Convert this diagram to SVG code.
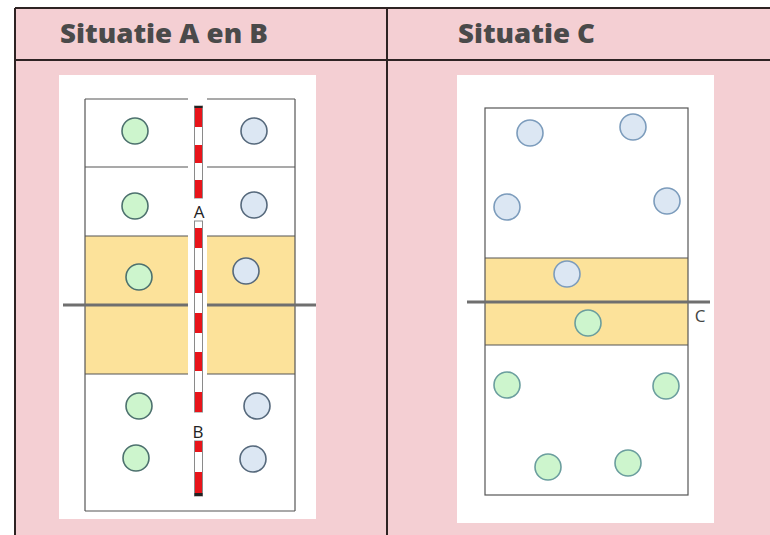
<svg xmlns="http://www.w3.org/2000/svg" width="770" height="535" viewBox="0 0 770 535">
  <style>
    .grid { stroke: #2e2323; stroke-width: 2; fill: none; }
    .title { font-family: "Open Sans", "Lato", sans-serif; font-weight: 800; font-size: 27px; fill: #4a4a4a; }
    .edge { stroke: #555; stroke-width: 1.2; fill: none; }
    .zone { fill: #fce29a; }
    .cut { stroke: #6f6f6f; stroke-width: 3; }
    .green { fill: #cdf5cd; stroke: #4d716e; stroke-width: 1.6; }
    .blue { fill: #dce7f3; stroke: #56697c; stroke-width: 1.6; }
    .green2 { fill: #cdf5cd; stroke: #6b9e9e; stroke-width: 1.6; }
    .blue2 { fill: #dce7f3; stroke: #7c9cbc; stroke-width: 1.6; }
    .lbl { font-family: "Open Sans", "Liberation Sans", sans-serif; font-size: 17px; fill: #222; text-anchor: middle; }
    .lblc { font-family: "Open Sans", "Liberation Sans", sans-serif; font-size: 17px; fill: #444; text-anchor: middle; }
    .red { fill: #e8141a; }
    .pole { fill: #ffffff; stroke: #8a8a8a; stroke-width: 1; }
  </style>

  <!-- table background and rules -->
  <rect x="0" y="0" width="770" height="535" fill="#ffffff"/>
  <rect x="15" y="8" width="760" height="540" fill="#f4cfd3"/>
  <line class="grid" x1="15" y1="8" x2="770" y2="8"/>
  <line class="grid" x1="15" y1="8" x2="15" y2="535"/>
  <line class="grid" x1="15" y1="60" x2="770" y2="60"/>
  <line class="grid" x1="387" y1="8" x2="387" y2="535"/>

  <text class="title" x="60" y="43" textLength="208" lengthAdjust="spacingAndGlyphs">Situatie A en B</text>
  <text class="title" x="458" y="43" textLength="137" lengthAdjust="spacingAndGlyphs">Situatie C</text>

  <!-- situation A and B -->
  <g id="panel-ab">
    <rect x="59" y="75" width="257" height="444" fill="#ffffff"/>
    <rect class="zone" x="85" y="236" width="103" height="138"/>
    <rect class="zone" x="207" y="236" width="88" height="138"/>
    <g class="edge">
      <line x1="85" y1="99" x2="188" y2="99"/>
      <line x1="207" y1="99" x2="295" y2="99"/>
      <line x1="85" y1="167" x2="188" y2="167"/>
      <line x1="207" y1="167" x2="295" y2="167"/>
      <line x1="85" y1="236" x2="188" y2="236"/>
      <line x1="207" y1="236" x2="295" y2="236"/>
      <line x1="85" y1="374" x2="188" y2="374"/>
      <line x1="207" y1="374" x2="295" y2="374"/>
      <line x1="85" y1="511" x2="295" y2="511"/>
      <line x1="85" y1="99" x2="85" y2="511"/>
      <line x1="295" y1="99" x2="295" y2="511"/>
    </g>
    <line class="cut" x1="63" y1="305" x2="188" y2="305"/>
    <line class="cut" x1="207" y1="305" x2="316" y2="305"/>

    <g id="pole-top">
      <rect class="pole" x="194.5" y="106" width="8" height="92"/>
      <rect x="194.5" y="106" width="8" height="2" fill="#222"/>
      <rect class="red" x="195" y="108" width="7" height="19"/>
      <rect class="red" x="195" y="145" width="7" height="18"/>
      <rect class="red" x="195" y="180" width="7" height="18"/>
    </g>
    <g id="pole-mid">
      <rect class="pole" x="194.5" y="221" width="8" height="191"/>
      <rect class="red" x="195" y="228" width="7" height="20"/>
      <rect class="red" x="195" y="270" width="7" height="23"/>
      <rect class="red" x="195" y="313" width="7" height="20"/>
      <rect class="red" x="195" y="352" width="7" height="19"/>
      <rect class="red" x="195" y="392" width="7" height="20"/>
    </g>
    <g id="pole-bottom">
      <rect class="pole" x="194.5" y="441" width="8" height="55"/>
      <rect class="red" x="195" y="441" width="7" height="11"/>
      <rect class="red" x="195" y="472" width="7" height="21"/>
      <rect x="194.5" y="493" width="8" height="3" fill="#222"/>
    </g>
    <text class="lbl" x="199" y="218">A</text>
    <text class="lbl" x="198" y="438">B</text>

    <circle class="green" cx="135" cy="131" r="13"/>
    <circle class="green" cx="135" cy="206" r="13"/>
    <circle class="green" cx="139" cy="277" r="13"/>
    <circle class="green" cx="139" cy="406" r="13"/>
    <circle class="green" cx="136" cy="458" r="13"/>
    <circle class="blue" cx="254" cy="131" r="13"/>
    <circle class="blue" cx="254" cy="205" r="13"/>
    <circle class="blue" cx="246" cy="271" r="13"/>
    <circle class="blue" cx="257" cy="406" r="13"/>
    <circle class="blue" cx="253" cy="459" r="13"/>
  </g>

  <!-- situation C -->
  <g id="panel-c">
    <rect x="457" y="75" width="257" height="448" fill="#ffffff"/>
    <rect class="zone" x="485" y="258" width="203" height="87"/>
    <rect class="edge" x="485" y="108" width="203" height="387"/>
    <line class="edge" x1="485" y1="258" x2="688" y2="258"/>
    <line class="edge" x1="485" y1="345" x2="688" y2="345"/>
    <line class="cut" x1="467" y1="302" x2="710" y2="302"/>
    <text class="lblc" x="700" y="322">C</text>

    <circle class="blue2" cx="530" cy="133" r="13"/>
    <circle class="blue2" cx="633" cy="127" r="13"/>
    <circle class="blue2" cx="507" cy="207" r="13"/>
    <circle class="blue2" cx="667" cy="201" r="13"/>
    <circle class="blue2" cx="567" cy="274" r="13"/>
    <circle class="green2" cx="588" cy="323" r="13"/>
    <circle class="green2" cx="507" cy="385" r="13"/>
    <circle class="green2" cx="666" cy="386" r="13"/>
    <circle class="green2" cx="548" cy="467" r="13"/>
    <circle class="green2" cx="628" cy="463" r="13"/>
  </g>
</svg>
